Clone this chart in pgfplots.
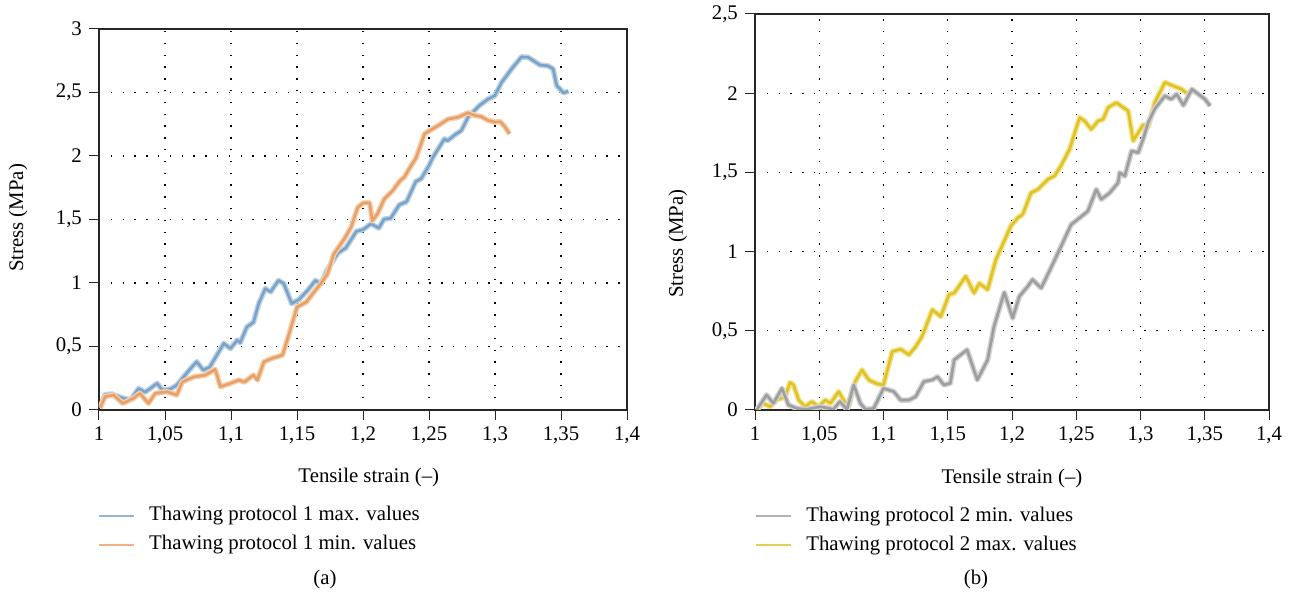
\documentclass[border=0pt]{standalone}
\usepackage{fontspec}
\setmainfont{Liberation Serif}
\usepackage{pgfplots}
\pgfplotsset{compat=1.18}

\definecolor{cblue}{HTML}{7BA3C7}
\definecolor{hblue}{HTML}{BCD2E5}
\definecolor{corange}{HTML}{E8A068}
\definecolor{horange}{HTML}{F5D0AE}
\definecolor{cgray}{HTML}{9E9E9E}
\definecolor{hgray}{HTML}{D2D2D2}
\definecolor{cyellow}{HTML}{E0C228}
\definecolor{hyellow}{HTML}{F3E48A}

\pgfplotsset{
  stressplot/.style={
    scale only axis,
    anchor=south west,
    xmin=1, xmax=1.4,
    ymin=0,
    xtick={1,1.05,1.1,1.15,1.2,1.25,1.3,1.35,1.4},
    tick pos=left,
    tick align=outside,
    major tick length=10pt,
    tick style={black!85, line width=1pt},
    axis line style={black!85, line width=1.2pt},
    grid=major,
    major grid style={black, line width=1.3pt, dash pattern=on 1.3pt off 10.5pt},
    /pgf/number format/use comma,
    /pgf/number format/assume math mode=true,
    xlabel={Tensile strain (--)},
    ylabel={Stress (MPa)},
    legend cell align=left,
    legend image code/.code={\draw[##1] (0pt,0pt) -- (35pt,0pt);},
    legend image post style={line width=1.6pt, opacity=0.8},
    legend style={anchor=north west, draw=none, fill=none, inner sep=0pt,
      row sep=11pt, column sep=14.5pt,
      nodes={inner sep=0pt, text height=14pt, text depth=4pt}},
  }
}

\begin{document}
\fontsize{20.8}{25}\selectfont
\begin{tikzpicture}
\path[use as bounding box] (0pt,0pt) rectangle (1290pt,597pt);

\begin{axis}[stressplot,
  at={(99pt,187pt)}, width=528pt, height=381pt,
  ymax=3, ytick={0,0.5,1,1.5,2,2.5,3},
  xlabel style={at={(axis description cs:0.511,-0.178)}, anchor=center},
  ylabel style={at={(axis description cs:-0.153,0.504)}, anchor=center},
  legend style={at={(axis description cs:-0.002,-0.254)}},
]
\pgfplotstableread{
x y
1.0008 0.016
1.0046 0.12
1.0096 0.126
1.018 0.094
1.024 0.08
1.030 0.17
1.035 0.14
1.044 0.21
1.048 0.157
1.054 0.165
1.059 0.196
1.068 0.31
1.074 0.38
1.079 0.314
1.084 0.34
1.0945 0.524
1.0996 0.484
1.1047 0.55
1.107 0.53
1.112 0.654
1.117 0.69
1.121 0.838
1.126 0.956
1.130 0.93
1.136 1.02
1.140 0.995
1.146 0.838
1.1515 0.87
1.158 0.942
1.164 1.02
1.168 0.995
1.173 1.105
1.181 1.236
1.187 1.276
1.195 1.407
1.2 1.42
1.206 1.466
1.212 1.433
1.216 1.503
1.221 1.51
1.2275 1.616
1.233 1.64
1.240 1.80
1.244 1.82
1.250 1.925
1.253 1.99
1.2617 2.135
1.264 2.12
1.2706 2.174
1.2745 2.20
1.2795 2.304
1.288 2.396
1.2947 2.448
1.2998 2.474
1.305 2.58
1.3126 2.686
1.320 2.78
1.325 2.778
1.334 2.717
1.340 2.71
1.344 2.686
1.3467 2.555
1.352 2.497
1.3556 2.51
}\maxone
\pgfplotstableread{
x y
1.0008 0.016
1.0046 0.105
1.011 0.118
1.018 0.052
1.026 0.092
1.031 0.131
1.0375 0.052
1.0426 0.131
1.0514 0.144
1.059 0.118
1.063 0.22
1.0717 0.26
1.0806 0.275
1.088 0.32
1.092 0.183
1.0996 0.21
1.106 0.236
1.11 0.22
1.117 0.275
1.12 0.236
1.125 0.38
1.131 0.406
1.139 0.432
1.144 0.60
1.150 0.81
1.157 0.85
1.163 0.93
1.168 0.995
1.173 1.07
1.178 1.23
1.186 1.35
1.191 1.44
1.196 1.595
1.2 1.63
1.205 1.63
1.207 1.49
1.211 1.545
1.216 1.66
1.2225 1.727
1.2276 1.80
1.2314 1.835
1.2365 1.925
1.240 1.98
1.2467 2.175
1.2505 2.20
1.258 2.246
1.2643 2.29
1.272 2.305
1.2795 2.34
1.2846 2.32
1.2897 2.31
1.2947 2.28
1.300 2.267
1.304 2.27
1.3075 2.23
1.311 2.175
}\minone
\addplot[hblue, line width=5.5pt, line join=round, forget plot] table {\maxone};
\addplot[cblue, line width=2.6pt, line join=round] table {\maxone};
\addlegendentry{Thawing protocol 1 max. values}
\addplot[horange, line width=5.5pt, line join=round, forget plot] table {\minone};
\addplot[corange, line width=2.6pt, line join=round] table {\minone};
\addlegendentry{Thawing protocol 1 min. values}
\end{axis}

\begin{axis}[stressplot,
  at={(755pt,187pt)}, width=514pt, height=396pt,
  ymax=2.5, ytick={0,0.5,1,1.5,2,2.5},
  xlabel style={at={(axis description cs:0.5,-0.172)}, anchor=center},
  ylabel style={at={(axis description cs:-0.15,0.42)}, anchor=center},
  legend style={at={(axis description cs:0,-0.245)}},
  reverse legend,
]
\pgfplotstableread{
x y
1.0013 0.0
1.009 0.095
1.0143 0.042
1.021 0.137
1.026 0.032
1.0326 0.01
1.040 0.004
1.051 0.021
1.061 0.004
1.066 0.053
1.0716 0.004
1.0768 0.158
1.082 0.042
1.086 0.004
1.0924 0.01
1.100 0.137
1.108 0.116
1.1133 0.063
1.1198 0.063
1.125 0.084
1.1315 0.18
1.138 0.19
1.142 0.21
1.147 0.158
1.152 0.169
1.155 0.316
1.160 0.348
1.165 0.38
1.173 0.19
1.181 0.316
1.186 0.527
1.194 0.742
1.2005 0.58
1.2057 0.717
1.2122 0.78
1.216 0.823
1.2227 0.77
1.229 0.875
1.2357 0.99
1.246 1.17
1.2526 1.213
1.259 1.255
1.2656 1.392
1.2695 1.33
1.276 1.371
1.2826 1.435
1.2838 1.498
1.2878 1.477
1.293 1.635
1.2982 1.625
1.302 1.709
1.306 1.815
1.311 1.90
1.319 1.983
1.324 1.962
1.3281 1.994
1.3334 1.924
1.34 2.025
1.345 1.994
1.3502 1.962
1.3541 1.92
}\mintwo
\pgfplotstableread{
x y
1.0013 0.004
1.0065 0.042
1.0117 0.021
1.017 0.063
1.0234 0.084
1.0273 0.173
1.030 0.158
1.034 0.063
1.039 0.021
1.0443 0.053
1.0495 0.021
1.0547 0.063
1.0586 0.042
1.0651 0.116
1.069 0.063
1.0729 0.021
1.078 0.18
1.0833 0.253
1.0885 0.19
1.095 0.165
1.100 0.158
1.1068 0.369
1.1133 0.384
1.1198 0.348
1.125 0.40
1.130 0.464
1.138 0.633
1.1445 0.59
1.151 0.728
1.155 0.738
1.164 0.844
1.1705 0.738
1.1745 0.80
1.181 0.76
1.1875 0.95
1.191 1.013
1.199 1.16
1.2044 1.213
1.2083 1.234
1.2148 1.371
1.22 1.392
1.2279 1.456
1.233 1.477
1.238 1.54
1.2448 1.646
1.2526 1.846
1.2565 1.825
1.2617 1.772
1.267 1.825
1.2709 1.835
1.2748 1.91
1.2813 1.94
1.2865 1.91
1.2904 1.888
1.2943 1.70
1.2982 1.75
1.302 1.80
1.306 1.79
1.311 1.94
1.319 2.068
1.3255 2.046
1.332 2.025
1.336 2.0
}\maxtwo
\addplot[hyellow, line width=5.5pt, line join=round, forget plot] table {\maxtwo};
\addplot[cyellow, line width=2.6pt, line join=round] table {\maxtwo};
\addlegendentry{Thawing protocol 2 max. values}
\addplot[hgray, line width=5.5pt, line join=round, forget plot] table {\mintwo};
\addplot[cgray, line width=2.6pt, line join=round] table {\mintwo};
\addlegendentry{Thawing protocol 2 min. values}
\end{axis}

\node at (325pt,18pt) {(a)};
\node at (976pt,18pt) {(b)};
\end{tikzpicture}
\end{document}
